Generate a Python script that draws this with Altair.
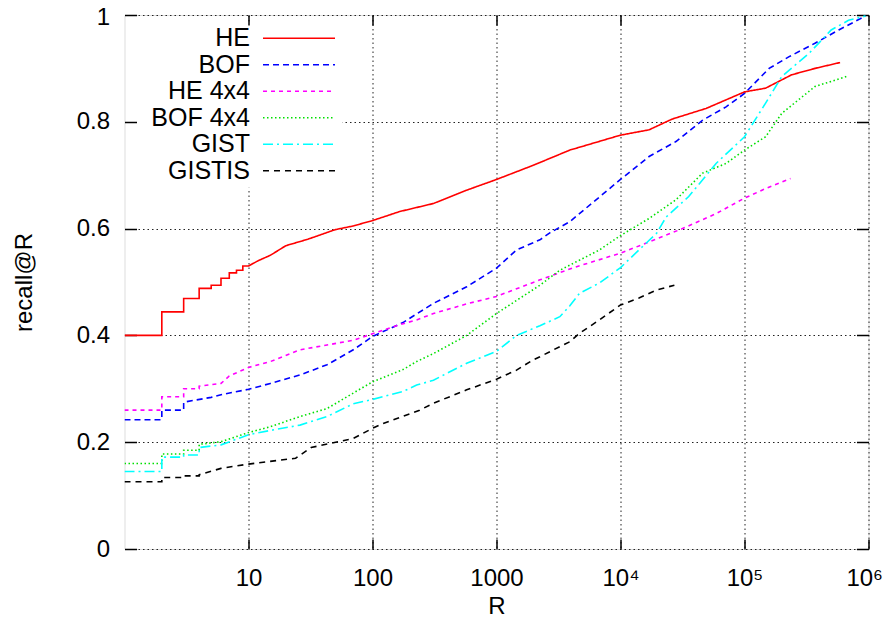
import altair as alt
import pandas as pd

series_names = ["HE", "BOF", "HE 4x4", "BOF 4x4", "GIST", "GISTIS"]
series_colors = ["#ff0000", "#0000ff", "#ff00ff", "#00e000", "#00ffff", "#000000"]
series_dashes = [[1, 0], [6, 4], [4, 4], [1.5, 2.5], [10, 4, 2, 4], [6, 5]]

he_R = [1, 2, 2, 3, 3, 4, 4, 5, 5, 6, 6, 7, 7, 8, 8, 9, 9, 10, 12, 15, 20, 30, 50, 70, 100,
        166, 310, 575, 1000, 2000, 3900, 10000, 17000, 26000, 49000, 100000, 148000,
        240000, 370000, 590000]
he_recall = [0.400, 0.400, 0.444, 0.444, 0.469, 0.469, 0.488, 0.488, 0.494, 0.494, 0.507,
             0.507, 0.517, 0.517, 0.522, 0.522, 0.530, 0.530, 0.540, 0.550, 0.568, 0.580,
             0.598, 0.605, 0.615, 0.632, 0.647, 0.672, 0.692, 0.719, 0.747, 0.775, 0.785,
             0.805, 0.825, 0.856, 0.863, 0.888, 0.900, 0.911]

bof_R = [1, 2, 2, 3, 3, 5, 6, 10, 15, 26, 43, 70, 100, 176, 310, 575, 1000, 1450, 2240,
         2690, 3900, 10000, 17000, 28000, 46000, 71000, 100000, 158000, 229000, 370000,
         575000, 945000]
bof_recall = [0.242, 0.242, 0.260, 0.260, 0.275, 0.284, 0.289, 0.299, 0.310, 0.326, 0.345,
              0.373, 0.398, 0.424, 0.460, 0.491, 0.526, 0.560, 0.579, 0.592, 0.613, 0.692,
              0.735, 0.763, 0.803, 0.828, 0.853, 0.900, 0.922, 0.947, 0.972, 0.998]

he4_R = [1, 2, 2, 3, 3, 4, 4, 6, 7, 10, 15, 26, 43, 70, 100, 166, 227, 310, 575, 1000,
         2240, 4200, 10000, 17000, 31600, 59000, 100000, 148000, 235000]
he4_recall = [0.260, 0.260, 0.285, 0.285, 0.300, 0.300, 0.305, 0.310, 0.324, 0.340, 0.351,
              0.373, 0.382, 0.391, 0.403, 0.420, 0.429, 0.441, 0.459, 0.473, 0.504, 0.527,
              0.554, 0.575, 0.600, 0.628, 0.657, 0.675, 0.694]

bof4_R = [1, 2, 2, 3, 3, 4, 4, 6, 10, 15, 26, 43, 70, 100, 176, 227, 310, 575, 1000, 2240,
          3240, 4680, 6760, 10000, 17000, 28000, 46000, 71000, 100000, 148000, 200000,
          370000, 690000]
bof4_recall = [0.160, 0.160, 0.178, 0.178, 0.185, 0.185, 0.196, 0.201, 0.218, 0.229, 0.248,
               0.263, 0.292, 0.313, 0.336, 0.351, 0.366, 0.400, 0.441, 0.494, 0.522, 0.541,
               0.560, 0.587, 0.619, 0.654, 0.704, 0.722, 0.747, 0.772, 0.816, 0.866, 0.886]

gist_R = [1, 2, 2, 3, 3, 4, 4, 6, 10, 15, 26, 43, 70, 100, 176, 227, 310, 575, 1000, 1450,
          2240, 3240, 3890, 4680, 6760, 10000, 14100, 19500, 23400, 35500, 59000, 100000,
          148000, 200000, 331000, 500000, 690000, 945000]
gist_recall = [0.145, 0.145, 0.172, 0.172, 0.176, 0.176, 0.190, 0.195, 0.214, 0.222, 0.232,
               0.248, 0.272, 0.280, 0.295, 0.307, 0.316, 0.348, 0.370, 0.400, 0.418, 0.435,
               0.455, 0.479, 0.498, 0.527, 0.560, 0.591, 0.622, 0.660, 0.722, 0.772, 0.835,
               0.885, 0.928, 0.972, 0.990, 0.998]

gistis_R = [1, 2, 2, 3, 3, 4, 4, 6, 10, 24, 32, 70, 100, 122, 240, 310, 575, 1000, 1450,
            1970, 2240, 3240, 3890, 4680, 6760, 10000, 14100, 19500, 27200]
gistis_recall = [0.126, 0.126, 0.134, 0.134, 0.137, 0.137, 0.139, 0.151, 0.159, 0.170,
                 0.190, 0.207, 0.226, 0.235, 0.260, 0.273, 0.298, 0.318, 0.335, 0.354, 0.360,
                 0.379, 0.388, 0.404, 0.429, 0.457, 0.470, 0.485, 0.494]

x_tick_values = [10, 100, 1000, 10000, 100000, 1000000]
x_tick_labels = ["10", "100", "1000", "10⁴", "10⁵", "10⁶"]
y_tick_values = [0, 0.2, 0.4, 0.6, 0.8, 1]
y_tick_labels = ["0", "0.2", "0.4", "0.6", "0.8", "1"]

all_R = [he_R, bof_R, he4_R, bof4_R, gist_R, gistis_R]
all_recall = [he_recall, bof_recall, he4_recall, bof4_recall, gist_recall, gistis_recall]

rows = []
for name, rs, vs in zip(series_names, all_R, all_recall):
    for i, (r, v) in enumerate(zip(rs, vs)):
        rows.append({"series": name, "R": r, "recall": v, "idx": i})
df = pd.DataFrame(rows)


def label_expr(values, labels):
    expr = "''"
    for v, l in reversed(list(zip(values, labels))):
        expr = f"datum.value == {v} ? '{l}' : ({expr})"
    return expr


FONT = "Liberation Sans"
FS = 24

x_scale = alt.Scale(type="log", domain=[1, 1000000], nice=False)
y_scale = alt.Scale(domain=[0, 1], nice=False)

# long horizontal sample line drawn with a small symbol size
legend = alt.Legend(
    title=None, orient="none", legendX=13, legendY=6.8,
    symbolType="M-4,0H4", symbolSize=324, symbolStrokeWidth=1.6,
    labelFontSize=25, labelFont=FONT, labelColor="black", labelAlign="right",
    labelOffset={"expr": "-61.5"}, symbolOffset=145, rowPadding=0.5,
    fillColor="white", padding=4, labelLimit=300,
)

lines = alt.Chart(df).mark_line(strokeWidth=1.6, clip=True).encode(
    x=alt.X("R:Q", scale=x_scale, axis=alt.Axis(
        orient="bottom", values=x_tick_values,
        labelExpr=label_expr(x_tick_values, x_tick_labels),
        offset=-10, tickSize=10, tickColor="black", tickWidth=1.5, domain=False,
        labelPadding=17, labelFontSize=FS, labelFont=FONT, labelColor="black",
        labelFlush=1, labelFlushOffset=14, labelOverlap=False,
        grid=True, gridColor="#222222", gridDash=[1.5, 3], gridWidth=1, gridOpacity=1,
        title="R", titleFontSize=FS, titleFont=FONT, titleFontWeight="normal",
        titleColor="black", titlePadding=4)),
    y=alt.Y("recall:Q", scale=y_scale, axis=alt.Axis(
        orient="left", values=y_tick_values,
        labelExpr=label_expr(y_tick_values, y_tick_labels),
        labelOffset={"condition": {"test": "datum.value == 1", "value": 2}, "value": 0},
        offset=-12, tickSize=12, tickColor="black", tickWidth=1.5, domain=False,
        labelPadding=15, labelFontSize=FS, labelFont=FONT, labelColor="black",
        labelFlush=False, labelOverlap=False,
        grid=True, gridColor="#222222", gridDash=[1.5, 3], gridWidth=1, gridOpacity=1,
        title="recall@R", titleFontSize=FS, titleFont=FONT, titleFontWeight="normal",
        titleColor="black", titlePadding=40)),
    color=alt.Color("series:N", scale=alt.Scale(domain=series_names, range=series_colors),
                    legend=legend),
    strokeDash=alt.StrokeDash("series:N", scale=alt.Scale(domain=series_names, range=series_dashes),
                              legend=legend),
    order="idx:Q",
)

mirror = alt.Chart(df).mark_line(opacity=0).encode(
    x=alt.X("R:Q", scale=x_scale, axis=alt.Axis(
        orient="top", values=x_tick_values, offset=-10, tickSize=10, tickColor="black",
        tickWidth=1.5, domain=False, labels=False, grid=False, title="", zindex=2)),
    y=alt.Y("recall:Q", scale=y_scale, axis=alt.Axis(
        orient="right", values=y_tick_values, offset=-12, tickSize=12, tickColor="black",
        tickWidth=1.5, domain=False, labels=False, grid=False, title="")),
    detail="series:N",
    order="idx:Q",
)

chart = alt.layer(lines, mirror).resolve_axis(
    x="independent", y="independent"
).properties(
    width=744, height=534,
    autosize=alt.AutoSizeParams(type="none"),
    padding={"left": 116.5, "top": 7, "right": 14.5, "bottom": 68},
).configure_view(
    stroke="black", strokeWidth=1.5
).configure(
    font=FONT, background="white"
)

chart.save("out.html", embed_options={"renderer": "svg", "actions": False})
